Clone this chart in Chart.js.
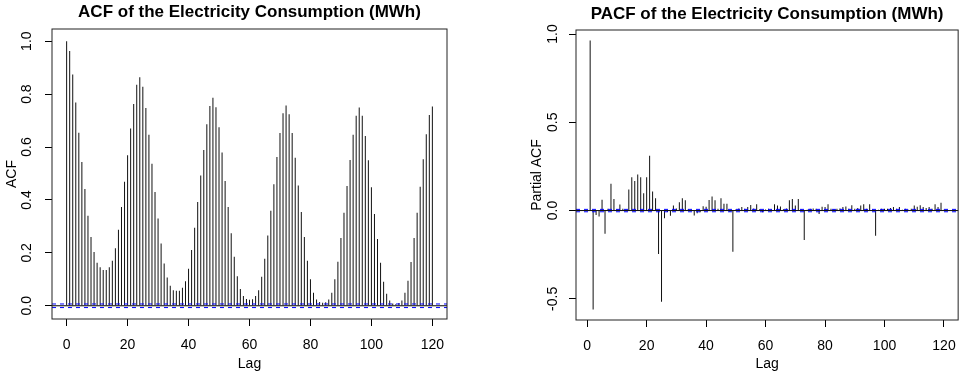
<!DOCTYPE html>
<html>
<head>
<meta charset="utf-8">
<script src="https://cdn.jsdelivr.net/npm/chart.js@4.4.1/dist/chart.umd.min.js"></script>
<style>
  html, body { margin: 0; padding: 0; background: #fff; }
  body { width: 967px; height: 372px; position: relative; overflow: hidden; }
  canvas { position: absolute; top: 0; }
  #acf-chart { left: 0; }
  #pacf-chart { left: 500px; }
</style>
</head>
<body>
<canvas id="acf-chart" width="483" height="372"></canvas>
<canvas id="pacf-chart" width="467" height="372"></canvas>
<script>
// lag of the first value in each series (ACF starts at 0, PACF at 1)
const acfFirstLag = 0;
const pacfFirstLag = 1;

const acfValues = [
  1.000, 0.963, 0.874, 0.768, 0.654, 0.543, 0.441, 0.340, 0.260, 0.203,
  0.163, 0.146, 0.135, 0.135, 0.146, 0.170, 0.217, 0.287, 0.373, 0.469,
  0.569, 0.670, 0.763, 0.835, 0.864, 0.828, 0.747, 0.646, 0.537, 0.430,
  0.330, 0.235, 0.160, 0.107, 0.076, 0.059, 0.057, 0.057, 0.068, 0.093,
  0.140, 0.211, 0.295, 0.392, 0.492, 0.589, 0.686, 0.755, 0.786, 0.750,
  0.675, 0.579, 0.472, 0.373, 0.274, 0.185, 0.112, 0.063, 0.037, 0.026,
  0.023, 0.025, 0.037, 0.059, 0.110, 0.178, 0.266, 0.359, 0.459, 0.562,
  0.653, 0.728, 0.757, 0.724, 0.653, 0.559, 0.455, 0.354, 0.260, 0.170,
  0.100, 0.049, 0.024, 0.014, 0.011, 0.013, 0.024, 0.049, 0.100, 0.166,
  0.256, 0.352, 0.453, 0.551, 0.646, 0.718, 0.749, 0.718, 0.642, 0.550,
  0.448, 0.347, 0.252, 0.163, 0.091, 0.045, 0.020, 0.009, 0.006, 0.010,
  0.020, 0.049, 0.095, 0.165, 0.256, 0.352, 0.450, 0.554, 0.648, 0.721,
  0.753
];

const pacfValues = [
  0.964, -0.561, -0.025, -0.034, 0.061, -0.131, 0.010, 0.152, 0.066, 0.008,
  0.034, 0.010, 0.005, 0.119, 0.189, 0.167, 0.205, 0.189, 0.098, 0.189,
  0.311, 0.108, 0.070, -0.246, -0.517, -0.044, -0.008, -0.030, 0.028, 0.012,
  0.047, 0.070, 0.058, 0.008, 0.005, -0.028, -0.015, -0.010, 0.024, 0.022,
  0.060, 0.080, 0.058, 0.010, 0.070, 0.038, 0.038, -0.006, -0.233, 0.006,
  0.012, 0.020, 0.010, 0.020, 0.032, 0.012, 0.036, 0.008, -0.010, 0.006,
  0.010, 0.006, 0.036, 0.028, 0.023, 0.008, 0.012, 0.058, 0.066, 0.028,
  0.066, 0.006, -0.167, 0.005, 0.010, 0.012, 0.010, -0.020, 0.022, 0.020,
  0.036, 0.010, 0.008, 0.010, 0.012, 0.020, 0.023, 0.010, 0.030, 0.010,
  0.015, 0.028, 0.036, 0.010, 0.036, 0.006, -0.142, 0.005, 0.010, 0.010,
  0.010, 0.015, 0.020, 0.010, 0.020, 0.005, 0.010, 0.005, 0.010, 0.028,
  0.022, 0.030, 0.020, 0.015, 0.020, 0.010, 0.036, 0.020, 0.044, 0.005
];

// 95% band (+/- 2/sqrt(n)), very narrow since the series is long
const ciLimit = 0.0068;

const lagTicks = [0, 20, 40, 60, 80, 100, 120];
const acfTicks = [0.0, 0.2, 0.4, 0.6, 0.8, 1.0];
const pacfTicks = [-0.5, 0.0, 0.5, 1.0];

const FONT = "'Liberation Sans', Arial, sans-serif";

// box round the plot, zero line and dashed blue band, like R's plot.acf
const framePlugin = {
  id: "frame",
  afterDatasetsDraw(chart, args, opts) {
    const { ctx, chartArea: a, scales: { y } } = chart;
    ctx.save();
    ctx.lineWidth = 1;
    const y0 = y.getPixelForValue(0);
    ctx.strokeStyle = "#000";
    ctx.beginPath(); ctx.moveTo(a.left, y0); ctx.lineTo(a.right, y0); ctx.stroke();
    ctx.strokeStyle = "#0000ff";
    ctx.setLineDash([4, 4]);
    for (const v of [opts.ci, -opts.ci]) {
      const py = y.getPixelForValue(v);
      ctx.beginPath(); ctx.moveTo(a.left, py); ctx.lineTo(a.right, py); ctx.stroke();
    }
    ctx.setLineDash([]);
    ctx.strokeStyle = "#222";
    ctx.strokeRect(a.left, a.top, a.right - a.left, a.bottom - a.top);
    ctx.restore();
  },
};

function makeCorrChart(canvasId, cfg) {
  const points = cfg.values.map((v, i) => ({ x: cfg.firstLag + i, y: v }));
  return new Chart(document.getElementById(canvasId), {
    type: "bar",
    data: {
      datasets: [{
        data: points,
        backgroundColor: "#111",
        borderWidth: 0,
        barThickness: 1,
        inflateAmount: 0,
        grouped: false,
      }],
    },
    plugins: [framePlugin],
    options: {
      responsive: false,
      animation: false,
      layout: { padding: { left: 0, right: cfg.padRight, top: 0, bottom: 0 } },
      plugins: {
        legend: { display: false },
        tooltip: { enabled: false },
        title: {
          display: true,
          text: cfg.title,
          fullSize: false,
          color: "#000",
          font: { family: FONT, size: 17, weight: "bold", lineHeight: 1.2 },
          padding: cfg.titlePad,
        },
        frame: { ci: ciLimit },
      },
      scales: {
        x: {
          type: "linear",
          offset: false,
          min: cfg.xMin,
          max: cfg.xMax,
          afterBuildTicks: s => { s.ticks = lagTicks.map(v => ({ value: v })); },
          afterFit: s => { s.height = cfg.xAxisHeight; },
          grid: { display: true, drawOnChartArea: false, drawTicks: true, tickLength: 7, color: "#000", offset: false },
          border: { display: false },
          ticks: { autoSkip: false, maxRotation: 0, color: "#000", padding: 11, font: { family: FONT, size: 14 } },
          title: { display: true, text: "Lag", color: "#000", font: { family: FONT, size: 14 }, padding: { top: 0, bottom: -1 } },
        },
        y: {
          min: cfg.yMin,
          max: cfg.yMax,
          afterBuildTicks: s => { s.ticks = cfg.yTicks.map(v => ({ value: v })); },
          afterFit: s => { s.width = cfg.yAxisWidth; },
          grid: { display: true, drawOnChartArea: false, drawTicks: true, tickLength: 7, color: "#000" },
          border: { display: false },
          ticks: {
            autoSkip: false,
            minRotation: 90,
            maxRotation: 90,
            crossAlign: "center",
            padding: cfg.yTickPad,
            color: "#000",
            font: { family: FONT, size: 14 },
            callback: v => v.toFixed(1),
          },
          title: { display: true, text: cfg.yTitle, color: "#000", font: { family: FONT, size: 14 }, padding: { top: cfg.yTitlePad, bottom: 0 } },
        },
      },
    },
  });
}

makeCorrChart("acf-chart", {
  title: "ACF of the Electricity Consumption (MWh)",
  yTitle: "ACF",
  values: acfValues,
  firstLag: acfFirstLag,
  yTicks: acfTicks,
  xMin: -4.8, xMax: 124.8,
  yMin: -0.050, yMax: 1.046,
  padRight: 36,
  yAxisWidth: 52,
  xAxisHeight: 53,
  titlePad: { top: 2, bottom: 6.6 },
  yTickPad: 8,
  yTitlePad: 4,
});

makeCorrChart("pacf-chart", {
  title: "PACF of the Electricity Consumption (MWh)",
  yTitle: "Partial ACF",
  values: pacfValues,
  firstLag: pacfFirstLag,
  yTicks: pacfTicks,
  xMin: -3.76, xMax: 124.76,
  yMin: -0.62, yMax: 1.023,
  padRight: 1,
  yAxisWidth: 76,
  xAxisHeight: 52,
  titlePad: { top: 4, bottom: 5.6 },
  yTickPad: 4,
  yTitlePad: 28.6,
});
</script>
</body>
</html>
